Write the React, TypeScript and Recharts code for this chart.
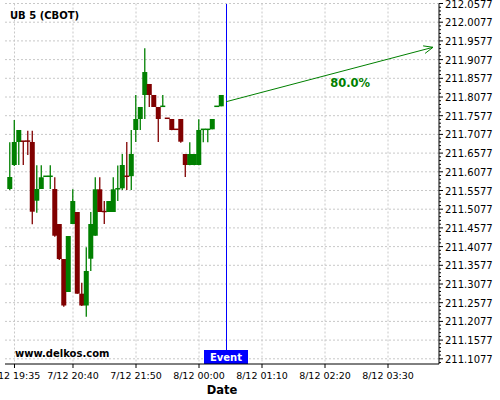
import React from 'react';
import { ComposedChart, Bar, XAxis, YAxis, CartesianGrid, ReferenceLine } from 'recharts';

const OPEN = [211.5617, 211.6259, 211.6874, 211.6901, 211.6901, 211.6874, 211.5304, 211.5617, 211.5955, 211.5955, 211.5617, 211.4681, 211.3745, 211.2863, 211.4681, 211.5002, 211.2818, 211.2502, 211.3753, 211.4368, 211.5609, 211.5020, 211.5002, 211.5002, 211.5620, 211.5636, 211.5960, 211.5960, 211.7195, 211.7489, 211.8131, 211.8425, 211.8131, 211.7810, 211.7826, 211.7510, 211.7489, 211.7215, 211.7489, 211.6553, 211.6259, 211.6259, 211.6259, 211.7211, 211.7211, 211.7213, 211.7826, 211.7828];
const HIGH = [211.6866, 211.7462, 211.7195, 211.6901, 211.7176, 211.7176, 211.6250, 211.6250, 211.5962, 211.6250, 211.5928, 211.4681, 211.3745, 211.4360, 211.5610, 211.5002, 211.3112, 211.4058, 211.5002, 211.5930, 211.5930, 211.5296, 211.5296, 211.5930, 211.6245, 211.6553, 211.6874, 211.7195, 211.8131, 211.7810, 211.9379, 211.8425, 211.8131, 211.7810, 211.8131, 211.7512, 211.7489, 211.7217, 211.7489, 211.6553, 211.6866, 211.6553, 211.7480, 211.7215, 211.7215, 211.7489, 211.7832, 211.8131];
const LOW = [211.5590, 211.6232, 211.6259, 211.6259, 211.6526, 211.4673, 211.4983, 211.5617, 211.5953, 211.5617, 211.4342, 211.3719, 211.2470, 211.2863, 211.4681, 211.2818, 211.2490, 211.2203, 211.3425, 211.4368, 211.5002, 211.4681, 211.5002, 211.5002, 211.5296, 211.5590, 211.5590, 211.5590, 211.6874, 211.7195, 211.7489, 211.7810, 211.7810, 211.6874, 211.7826, 211.7504, 211.7190, 211.7209, 211.6855, 211.5938, 211.6250, 211.6250, 211.6250, 211.6866, 211.6866, 211.7213, 211.7824, 211.7828];
const CLOSE = [211.5938, 211.6874, 211.7195, 211.6890, 211.6895, 211.5010, 211.5617, 211.5930, 211.5960, 211.5960, 211.4368, 211.3745, 211.2502, 211.4360, 211.5296, 211.2818, 211.2502, 211.3425, 211.4681, 211.5609, 211.5002, 211.5010, 211.5296, 211.5609, 211.5625, 211.6259, 211.5955, 211.6553, 211.7489, 211.7810, 211.8745, 211.8131, 211.7810, 211.7489, 211.7830, 211.7506, 211.7195, 211.7211, 211.6882, 211.6259, 211.6553, 211.6553, 211.7195, 211.7215, 211.7215, 211.7489, 211.7830, 211.8131];

const X_TICKS = [1, 14, 28, 42, 56, 70, 84];
const X_LABELS = ['7/12 19:35', '7/12 20:40', '7/12 21:50', '8/12 00:00', '8/12 01:10', '8/12 02:20', '8/12 03:30'];
const Y_TICKS = [211.1077, 211.1577, 211.2077, 211.2577, 211.3077, 211.3577, 211.4077, 211.4577, 211.5077, 211.5577, 211.6077, 211.6577, 211.7077, 211.7577, 211.8077, 211.8577, 211.9077, 211.9577, 212.0077, 212.0577];
const X_DOMAIN = [-1.111, 95.333];
const Y_DOMAIN = [211.0938, 212.0577];

const EVENT_INDEX = 48;
const EVENT_LABEL = 'Event';
const TARGET_INDEX = 94;
const ARROW_START = 211.795;
const ARROW_END = 211.9406;
const PROB_LABEL = '80.0%';
const TITLE = 'UB 5 (CBOT)';
const WATERMARK = 'www.delkos.com';
const X_TITLE = 'Date';

const GREEN = '#008000';
const RED = '#800000';
const FONT = 'DejaVu Sans';

const data = OPEN.map((o, i) => ({
  i,
  open: o,
  high: HIGH[i],
  low: LOW[i],
  close: CLOSE[i],
  range: [LOW[i], HIGH[i]],
}));

// minor ticks: 5 per major interval
const MINOR: number[] = [];
for (let k = 0; k < Y_TICKS.length; k++) {
  for (let j = 0; j < 5; j++) {
    const v = +(Y_TICKS[k] - j * 0.01).toFixed(4);
    if (v >= Y_DOMAIN[0]) MINOR.push(v);
  }
}
const ALL_Y = Array.from(new Set(MINOR)).sort((a, b) => a - b);

const Candle = (props: any) => {
  const { x, y, width, height, payload } = props;
  if (x == null || !payload) return null;
  const top = Math.min(y, y + height);
  const h = Math.abs(height);
  const { open, close, high, low } = payload;
  const span = high - low;
  const k = span > 0 ? h / span : 0;
  const yO = top + (high - open) * k;
  const yC = top + (high - close) * k;
  const color = close >= open ? GREEN : RED;
  const cx = x + width / 2;
  let bt = Math.min(yO, yC);
  let bh = Math.abs(yO - yC);
  if (bh < 1.5) {
    const m = (yO + yC) / 2;
    bt = m - 0.75;
    bh = 1.5;
  }
  return (
    <g>
      <line x1={cx} x2={cx} y1={top} y2={top + h} stroke={color} strokeWidth={1.3} />
      <rect x={cx - 2.5} y={bt} width={5} height={bh} fill={color} />
    </g>
  );
};

const YTick = (props: any) => {
  const { x, y, payload } = props;
  const v = payload.value;
  const major = Y_TICKS.some((t) => Math.abs(t - v) < 1e-6);
  const ax = x - 6;
  return (
    <g>
      <line x1={ax} x2={ax + (major ? 4 : 2)} y1={y} y2={y} stroke="#000" strokeWidth={1} />
      {major && (
        <text x={x} y={y + 0.5} dy="0.355em" textAnchor="start" fontSize={10} fontFamily={FONT} fill="#000">
          {v.toFixed(4)}
        </text>
      )}
    </g>
  );
};

const Arrow = (props: any) => {
  const { x1, y1, x2, y2 } = props;
  if (x1 == null) return null;
  const ang = Math.atan2(y2 - y1, x2 - x1);
  const L = 10;
  const a = 0.4;
  const ax1 = x2 - L * Math.cos(ang - a);
  const ay1 = y2 - L * Math.sin(ang - a);
  const ax2 = x2 - L * Math.cos(ang + a);
  const ay2 = y2 - L * Math.sin(ang + a);
  const t = 0.6;
  const tx = x1 + (x2 - x1) * t;
  const ty = y1 + (y2 - y1) * t;
  return (
    <g>
      <line x1={x1} y1={y1} x2={x2} y2={y2} stroke={GREEN} strokeWidth={1} />
      <polyline points={`${ax1},${ay1} ${x2},${y2} ${ax2},${ay2}`} fill="none" stroke={GREEN} strokeWidth={1} />
      <text x={tx} y={ty + 18} textAnchor="middle" fontSize={11.5} fontWeight="bold" fontFamily={FONT} fill={GREEN}>
        {PROB_LABEL}
      </text>
    </g>
  );
};

const EventLabel = (props: any) => {
  const vb = props.viewBox || {};
  const x = vb.x;
  const bottom = vb.y + vb.height;
  return (
    <g>
      <rect x={x - 22} y={bottom - 14} width={44} height={14} fill="#0000ff" />
      <text x={x} y={bottom - 3.5} textAnchor="middle" fontSize={10} fontWeight="bold" fontFamily={FONT} fill="#fff">
        {EVENT_LABEL}
      </text>
    </g>
  );
};

export default function App() {
  return (
    <div style={{ position: 'absolute', left: 0, top: 0, width: 500, height: 400, background: '#fff' }}>
      <ComposedChart width={500} height={400} data={data} margin={{ top: 3.5, right: 0, left: 5, bottom: 0 }}>
        <CartesianGrid
          stroke="#c8c8c8"
          strokeDasharray="2 2"
          horizontalValues={Y_TICKS}
          verticalValues={X_TICKS}
        />
        <XAxis
          dataKey="i"
          type="number"
          domain={X_DOMAIN}
          allowDataOverflow
          ticks={X_TICKS}
          interval={0}
          tickFormatter={(v: number) => X_LABELS[X_TICKS.indexOf(v)] ?? ''}
          height={36}
          tickSize={4}
          tickMargin={4}
          stroke="#000"
          tick={{ fill: '#000', fontSize: 9.5, fontFamily: FONT }}
        />
        <YAxis
          orientation="right"
          type="number"
          domain={Y_DOMAIN}
          allowDataOverflow
          ticks={ALL_Y}
          interval={0}
          width={61}
          tickSize={4}
          tickMargin={2}
          tickLine={false}
          stroke="#000"
          tick={<YTick />}
        />
        <Bar dataKey="range" barSize={5} shape={<Candle />} isAnimationActive={false} />
        <ReferenceLine x={EVENT_INDEX} stroke="#0000ff" strokeWidth={1} shapeRendering="crispEdges" label={<EventLabel />} />
        <ReferenceLine
          segment={[
            { x: EVENT_INDEX, y: ARROW_START },
            { x: TARGET_INDEX, y: ARROW_END },
          ]}
          shape={(p: any) => <Arrow {...p} />}
        />
      </ComposedChart>
      <svg width={500} height={400} style={{ position: 'absolute', left: 0, top: 0, pointerEvents: 'none' }}>
        <text x={10} y={19} fontSize={10} fontWeight="bold" fontFamily={FONT} fill="#000">{TITLE}</text>
        <text x={15} y={357} fontSize={10} fontWeight="bold" fontFamily={FONT} fill="#000">{WATERMARK}</text>
        <text x={222} y={393.5} textAnchor="middle" fontSize={11.5} fontWeight="bold" fontFamily={FONT} fill="#000">{X_TITLE}</text>
      </svg>
    </div>
  );
}
